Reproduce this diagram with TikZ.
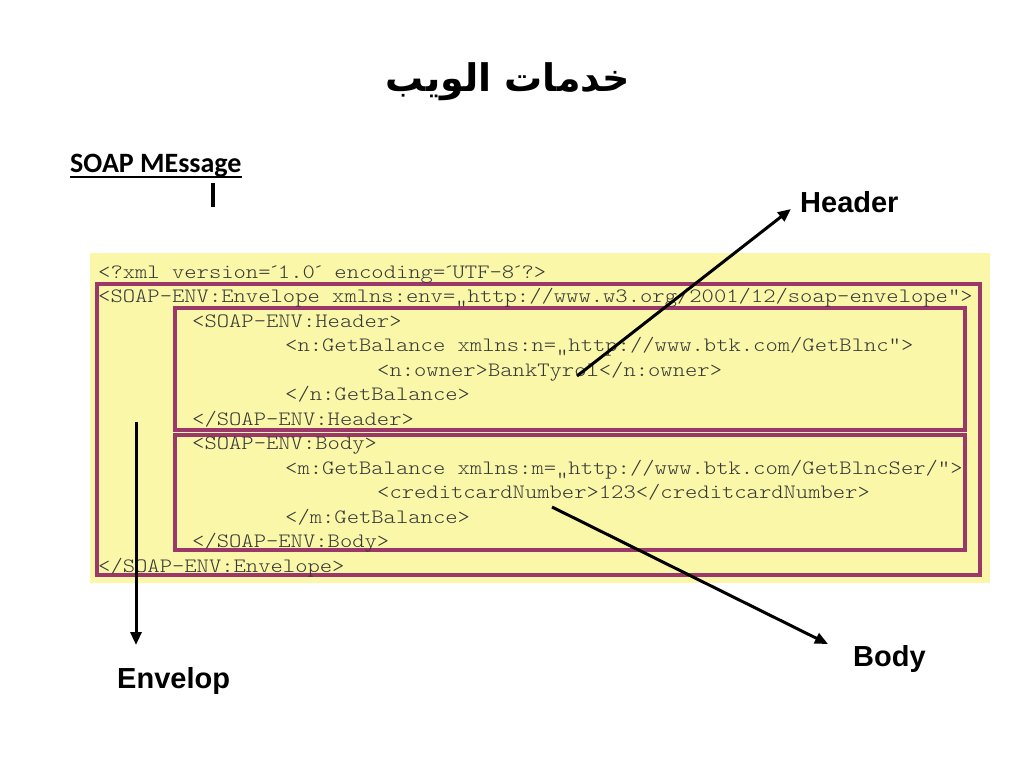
\documentclass[tikz,border=0pt]{standalone}
\usepackage{fontspec}
\usetikzlibrary{arrows.meta}
\TeXXeTstate=1
\newfontfamily\arabicfont[Script=Arabic]{DejaVu Sans}
\newfontfamily\codefont[FakeStretch=1.15]{Latin Modern Mono Light}
\newfontfamily\labelfont{Liberation Sans}
\newfontfamily\calfont{Carlito}
\definecolor{bgyellow}{RGB}{250,248,168}
\definecolor{boxplum}{RGB}{155,55,105}
\definecolor{codegray}{RGB}{55,55,55}
\newcommand\aqt{\makebox[7.3pt][c]{´}}
\tikzset{
  code/.style={anchor=base west, inner sep=0pt, text=codegray,
    font=\codefont\fontsize{20.4}{24}\selectfont},
  lbl/.style={anchor=base west, inner sep=0pt,
    font=\labelfont\bfseries\fontsize{29}{34}\selectfont},
  boxline/.style={draw=boxplum, line width=4.5pt},
  arr/.style={line width=3pt, -{Triangle[length=13pt,width=11pt]}},
}
\begin{document}
\begin{tikzpicture}[x=1pt,y=-1pt]
\useasboundingbox (0,0) rectangle (1024,768);
\fill[white] (0,0) rectangle (1024,768);
% title
\node[anchor=base, inner sep=0pt, font=\arabicfont\bfseries\fontsize{38}{42}\selectfont] (title) at (508,91) {\beginR خدمات الويب\endR};
% SOAP MEssage
\node[anchor=base west, inner sep=0pt, font=\calfont\bfseries\fontsize{28}{32}\selectfont] (soap) at (70,172) {SOAP MEssage};
\draw[line width=2pt] ([yshift=-5pt]soap.base west) -- ([yshift=-5pt]soap.base east);
\draw[line width=4pt] (213,183) -- (213,207);
% yellow background
\fill[bgyellow] (90,253) rectangle (990,583);
% boxes
\draw[boxline] (97,284) rectangle (980,575);
\draw[boxline] (175,308) rectangle (965,430);
\draw[boxline] (175,435) rectangle (965,550);
% code lines
\node[code] (l1) at (98,278) {<?xml version=\aqt1.0\aqt{} encoding=\aqt UTF-8\aqt?>};
\node[code] (l2) at (98,302.5) {<SOAP-ENV:Envelope xmlns:env=„http://www.w3.org/2001/12/soap-envelope“>};
\node[code] (l3) at (192,327) {<SOAP-ENV:Header>};
\node[code] (l4) at (285,351.5) {<n:GetBalance xmlns:n=„http://www.btk.com/GetBlnc“>};
\node[code] (l5) at (377,376) {<n:owner>BankTyrol</n:owner>};
\node[code] (l6) at (285,400.5) {</n:GetBalance>};
\node[code] (l7) at (192,425) {</SOAP-ENV:Header>};
\node[code] (l8) at (192,449.5) {<SOAP-ENV:Body>};
\node[code] (l9) at (285,474) {<m:GetBalance xmlns:m=„http://www.btk.com/GetBlncSer/“>};
\node[code] (l10) at (377,498.5) {<creditcardNumber>123</creditcardNumber>};
\node[code] (l11) at (285,523) {</m:GetBalance>};
\node[code] (l12) at (192,547.5) {</SOAP-ENV:Body>};
\node[code] (l13) at (98,572) {</SOAP-ENV:Envelope>};
% labels
\node[lbl] (header) at (800,212) {Header};
\node[lbl] (body) at (853,666) {Body};
\node[lbl] (envelop) at (117,688) {Envelop};
% arrow end points
\coordinate (hs) at (577,376);
\coordinate (he) at (791,209);
\coordinate (bs) at (552,507);
\coordinate (be) at (828,644);
\coordinate (es) at (136,422);
\coordinate (ee) at (136,645);
\draw[arr] (hs) -- (he);
\draw[arr] (bs) -- (be);
\draw[arr] (es) -- (ee);
\end{tikzpicture}
\end{document}
